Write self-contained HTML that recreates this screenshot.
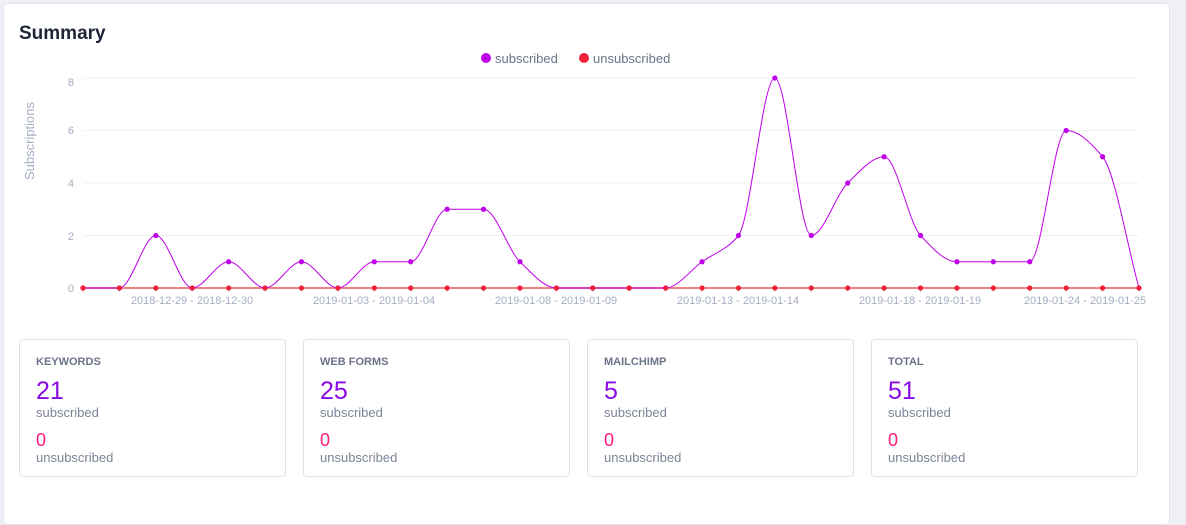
<!DOCTYPE html><html><head><style>
body{margin:0;width:1186px;height:494px;background:#eef0f5;font-family:"Liberation Sans",sans-serif;overflow:hidden;position:relative}
.card{position:absolute;left:3px;top:3px;width:1165px;height:520px;background:#fff;border:1px solid #e3e6ee;border-radius:4px}
h1{position:absolute;left:19px;top:23px;margin:0;font-size:19px;font-weight:bold;color:#1e2538}
.s{position:absolute;top:339px;width:265px;height:136px;border:1px solid #e0e3ea;border-radius:4px;background:#fff}
.s .t{position:absolute;left:16px;top:16px;font-size:11px;font-weight:bold;color:#6b7489}
.s .n{position:absolute;left:16px;top:37px;font-size:25px;color:#8a0ae6}
.s .l{position:absolute;left:16px;font-size:13px;color:#7c8499}
.s .z{position:absolute;left:16px;top:90px;font-size:18px;color:#ff1a7a}
</style></head><body>
<div class="card"></div>
<h1>Summary</h1>
<svg width="1186" height="330" style="position:absolute;left:0;top:0" font-family="Liberation Sans, sans-serif">
<g font-size="13" fill="#6b7489">
<circle cx="486" cy="58" r="5" fill="#c000e8"/><text x="495" y="63">subscribed</text>
<circle cx="584" cy="58" r="5" fill="#f0203a"/><text x="593" y="63">unsubscribed</text>
</g>
<g stroke="#eef0f4" stroke-width="1">
<line x1="83" x2="1139" y1="78" y2="78"/><line x1="83" x2="1139" y1="130.5" y2="130.5"/><line x1="83" x2="1139" y1="183" y2="183"/><line x1="83" x2="1139" y1="235.5" y2="235.5"/>
</g>
<g font-size="11" fill="#a5adc2" text-anchor="end"><text x="74" y="86">8</text><text x="74" y="134">6</text><text x="74" y="187">4</text><text x="74" y="240">2</text><text x="74" y="292">0</text></g>
<text transform="translate(34,141) rotate(-90)" text-anchor="middle" font-size="13" fill="#a5adc2">Subscriptions</text>
<g font-size="11" fill="#a5adc2" text-anchor="middle">
<text x="192" y="304">2018-12-29 - 2018-12-30</text><text x="374" y="304">2019-01-03 - 2019-01-04</text><text x="556" y="304">2019-01-08 - 2019-01-09</text><text x="738" y="304">2019-01-13 - 2019-01-14</text><text x="920" y="304">2019-01-18 - 2019-01-19</text><text x="1085" y="304">2019-01-24 - 2019-01-25</text>
</g>
<g id="g"></g>
</svg>
<div class="s" style="left:19px"><div class="t">KEYWORDS</div><div class="n">21</div><div class="l" style="top:65px">subscribed</div><div class="z">0</div><div class="l" style="top:110px">unsubscribed</div></div>
<div class="s" style="left:303px"><div class="t">WEB FORMS</div><div class="n">25</div><div class="l" style="top:65px">subscribed</div><div class="z">0</div><div class="l" style="top:110px">unsubscribed</div></div>
<div class="s" style="left:587px"><div class="t">MAILCHIMP</div><div class="n">5</div><div class="l" style="top:65px">subscribed</div><div class="z">0</div><div class="l" style="top:110px">unsubscribed</div></div>
<div class="s" style="left:871px"><div class="t">TOTAL</div><div class="n">51</div><div class="l" style="top:65px">subscribed</div><div class="z">0</div><div class="l" style="top:110px">unsubscribed</div></div>
<script>
var d=[0,0,2,0,1,0,1,0,1,1,3,3,1,0,0,0,0,1,2,8,2,4,5,2,1,1,1,6,5,0];
var P=d.map((v,i)=>[83+i*1056/29,288-v*26.25]);
var n=P.length,h0=1056/29,m=[],t=[];
for(var i=0;i<n-1;i++)m.push((P[i+1][1]-P[i][1])/h0);
for(i=0;i<n;i++){
 if(i==0)t.push(m[0]);else if(i==n-1)t.push(m[n-2]);
 else{var a=m[i-1],b=m[i];t.push(a*b<=0?0:2*a*b/(a+b));}
}
var s="M"+P[0];
for(i=0;i<n-1;i++){var dx=h0/3;
s+=" C"+(P[i][0]+dx)+","+(P[i][1]+t[i]*dx)+" "+(P[i+1][0]-dx)+","+(P[i+1][1]-t[i+1]*dx)+" "+P[i+1];}
var h='<line x1="83" x2="1139" y1="288" y2="288" stroke="#f08080" stroke-width="2"/>';
for(i=0;i<30;i++){h+='<line x1="'+P[i][0]+'" x2="'+P[i][0]+'" y1="288" y2="292" stroke="#ccc"/>';}
h+='<path d="'+s+'" fill="none" stroke="#c000e8" stroke-width="1"/>';
P.forEach(p=>{h+='<circle cx="'+p[0]+'" cy="'+p[1]+'" r="2.6" fill="#c000e8"/>';});
P.forEach(p=>{h+='<circle cx="'+p[0]+'" cy="288" r="2.6" fill="#f0203a"/>';});
document.getElementById('g').innerHTML=h;
</script>
</body></html>
